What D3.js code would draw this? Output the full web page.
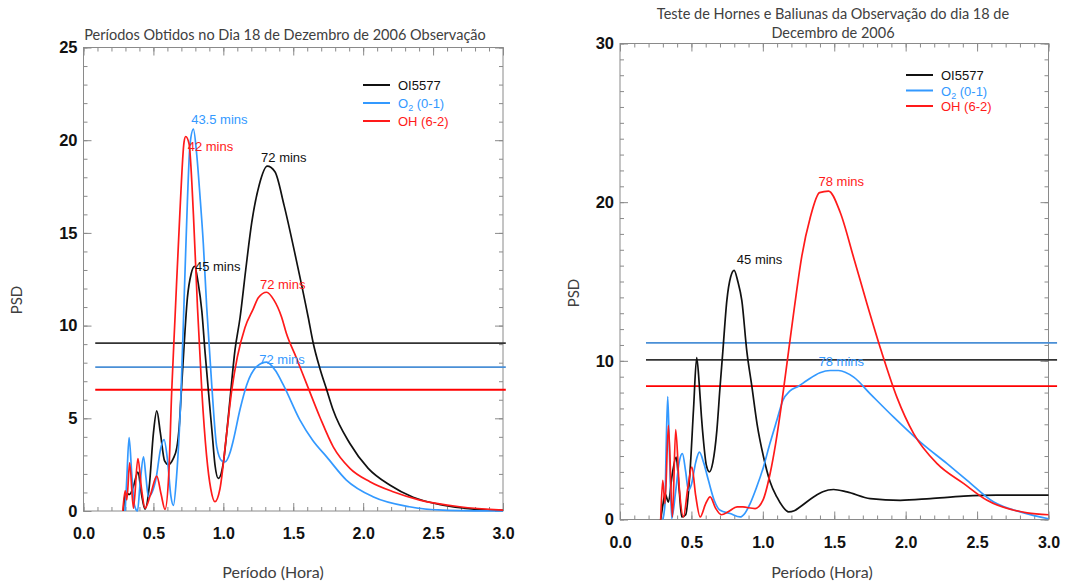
<!DOCTYPE html>
<html><head><meta charset="utf-8">
<script src="https://cdn.jsdelivr.net/npm/d3@7"></script>
<style>body{margin:0;background:#fff}</style>
</head><body>
<svg id="chart" width="1087" height="586"></svg>
<script>
// ---------------- DATA ----------------
const xTicks = [0.0, 0.5, 1.0, 1.5, 2.0, 2.5, 3.0];
const leftYTicks = [0, 5, 10, 15, 20, 25];
const rightYTicks = [0, 10, 20, 30];
const seriesNames = ["OI5577", "O2 (0-1)", "OH (6-2)"];

// Left panel: Períodos (PSD)
const leftOI5577 = [[0.285,0],[0.30,0.95],[0.33,0.9],[0.36,1.4],[0.389,2.1],[0.415,0.9],[0.44,0.1],[0.47,1.3],[0.50,4.2],[0.524,5.4],[0.55,4.2],[0.58,2.7],[0.607,2.5],[0.64,2.8],[0.667,3.4],[0.685,4.6],[0.70,6.5],[0.72,9.0],[0.743,11.5],[0.77,12.8],[0.795,13.2],[0.82,12.3],[0.846,10.8],[0.87,8.5],[0.893,6.5],[0.92,4.2],[0.94,2.5],[0.964,1.76],[1.00,2.6],[1.024,4.2],[1.05,6.2],[1.083,8.66],[1.12,10.45],[1.16,13.0],[1.203,15.55],[1.257,17.6],[1.314,18.6],[1.369,18.3],[1.434,16.5],[1.52,13.6],[1.607,10.45],[1.643,9.05],[1.69,7.7],[1.739,6.54],[1.786,5.43],[1.905,3.64],[2.036,2.3],[2.19,1.4],[2.357,0.74],[2.571,0.32],[2.81,0.09],[3.0,0.04]];
const leftO2 = [[0.298,0],[0.31,1.8],[0.326,3.96],[0.345,2.0],[0.365,0.3],[0.386,0.0],[0.405,1.5],[0.429,2.92],[0.447,1.8],[0.464,0.77],[0.49,1.0],[0.52,1.8],[0.55,3.3],[0.576,3.85],[0.60,2.8],[0.625,0.8],[0.643,0.3],[0.665,1.8],[0.698,6.5],[0.72,11.5],[0.743,16.7],[0.762,19.8],[0.786,20.6],[0.81,19.2],[0.833,17.0],[0.857,14.4],[0.881,11.0],[0.917,6.8],[0.953,3.46],[0.99,2.7],[1.012,2.65],[1.05,3.2],[1.071,3.8],[1.12,5.5],[1.167,6.8],[1.24,7.8],[1.31,8.03],[1.37,7.6],[1.429,6.8],[1.548,4.9],[1.64,3.8],[1.739,2.92],[1.88,1.67],[2.07,0.77],[2.33,0.23],[2.57,0.05],[3.0,0.0]];
const leftOH = [[0.281,0],[0.298,1.09],[0.31,0.6],[0.33,2.6],[0.357,0.15],[0.389,2.83],[0.415,1.2],[0.44,0.15],[0.48,0.9],[0.524,1.88],[0.555,0.9],[0.583,0.09],[0.61,2.0],[0.631,6.5],[0.655,10.5],[0.69,16.2],[0.719,19.9],[0.731,20.2],[0.755,19.8],[0.786,16.0],[0.815,11.0],[0.846,6.5],[0.88,3.0],[0.91,1.2],[0.94,0.5],[0.976,1.2],[1.024,4.2],[1.06,6.5],[1.10,8.3],[1.155,9.9],[1.214,10.9],[1.25,11.5],[1.31,11.8],[1.36,11.4],[1.417,10.45],[1.45,9.6],[1.52,8.3],[1.595,6.87],[1.69,5.07],[1.786,3.46],[1.905,2.3],[2.048,1.58],[2.214,1.04],[2.405,0.59],[2.69,0.23],[3.0,0.05]];
const leftThresholds = [9.05, 7.76, 6.54];
const leftThresholdSpan = [0.084, 3.02];
const leftPeakLabels = [
  {text:"43.5 mins", s:1, x:0.77, y:20.9},
  {text:"42 mins", s:2, x:0.745, y:19.4},
  {text:"72 mins", s:0, x:1.27, y:18.85},
  {text:"45 mins", s:0, x:0.797, y:12.95},
  {text:"72 mins", s:2, x:1.262, y:11.98},
  {text:"72 mins", s:1, x:1.257, y:7.95}
];

// Right panel: Teste de Hornes e Baliunas
const rightOI5577 = [[0.285,0],[0.30,0.9],[0.315,1.64],[0.339,1.1],[0.365,2.8],[0.393,3.94],[0.415,1.8],[0.432,0.16],[0.46,0.3],[0.49,3.0],[0.515,7.0],[0.537,10.2],[0.555,8.5],[0.57,6.5],[0.584,5.0],[0.605,3.4],[0.626,3.0],[0.65,3.6],[0.678,5.6],[0.70,8.3],[0.72,10.6],[0.748,13.8],[0.775,15.3],[0.799,15.7],[0.825,15.0],[0.853,13.8],[0.888,10.6],[0.923,8.4],[0.96,6.0],[1.005,3.94],[1.05,2.4],[1.098,1.42],[1.14,0.8],[1.18,0.48],[1.22,0.55],[1.26,0.79],[1.355,1.42],[1.42,1.75],[1.495,1.89],[1.589,1.74],[1.752,1.32],[1.963,1.21],[2.173,1.32],[2.406,1.47],[2.64,1.53],[3.0,1.53]];
const rightO2 = [[0.30,0],[0.315,1.0],[0.322,4.0],[0.334,7.75],[0.347,4.0],[0.362,0.06],[0.39,1.8],[0.414,3.6],[0.437,4.15],[0.46,3.0],[0.479,1.84],[0.50,2.2],[0.53,3.6],[0.556,4.25],[0.585,3.6],[0.619,2.47],[0.66,1.2],[0.701,0.58],[0.771,0.38],[0.841,0.16],[0.875,0.4],[0.911,1.0],[0.955,2.0],[1.004,3.3],[1.05,4.8],[1.098,6.25],[1.14,7.5],[1.19,8.1],[1.25,8.4],[1.308,8.76],[1.40,9.25],[1.472,9.39],[1.53,9.39],[1.636,8.97],[1.752,7.92],[1.916,6.45],[2.103,4.88],[2.29,3.52],[2.43,2.47],[2.617,1.1],[2.827,0.42],[3.0,0.05]];
const rightOH = [[0.285,0],[0.299,2.47],[0.315,1.0],[0.339,5.93],[0.367,0.16],[0.39,5.66],[0.415,2.0],[0.444,0.16],[0.475,2.0],[0.503,3.3],[0.53,1.5],[0.561,0.16],[0.60,1.0],[0.631,1.42],[0.67,0.7],[0.71,0.3],[0.76,0.5],[0.82,0.8],[0.86,0.79],[0.946,0.69],[1.0,1.2],[1.051,2.9],[1.09,4.8],[1.133,7.4],[1.18,10.6],[1.22,13.3],[1.273,16.6],[1.332,19.03],[1.397,20.6],[1.46,20.7],[1.542,19.35],[1.636,16.5],[1.729,13.6],[1.83,10.6],[1.939,7.7],[2.056,5.41],[2.22,3.52],[2.407,2.26],[2.57,1.21],[2.85,0.42],[3.0,0.3]];
const rightThresholds = [10.06, 11.13, 8.4];
const rightThresholdSpan = [0.182, 3.06];
const rightPeakLabels = [
  {text:"45 mins", s:0, x:0.818, y:16.1},
  {text:"78 mins", s:2, x:1.39, y:21.0},
  {text:"78 mins", s:1, x:1.39, y:9.7}
];

const seriesColors = ["#111111", "#3399ff", "#ff1a1a"];
const thresholdColors = ["#333333", "#4a8fd6", "#ff0000"];

// ---------------- DRAW ----------------
const svg = d3.select("#chart");
const tickFont = "'Liberation Sans', Arial, sans-serif";
const textFont = "Lato, 'Open Sans', sans-serif";

function panel(cfg) {
  const x = d3.scaleLinear().domain([0, 3]).range([cfg.left, cfg.right]);
  const y = d3.scaleLinear().domain([0, cfg.ymax]).range([cfg.bottom, cfg.top]);
  const g = svg.append("g");

  const minorX = d3.range(0, 3.0001, 0.1);
  const minorY = d3.range(0, cfg.ymax + 0.001, 1);

  function styleAxis(sel) {
    sel.select(".domain").remove();
    sel.selectAll("line").attr("stroke", "#8a8a8a").attr("stroke-width", 1);
  }
  g.append("g").attr("transform", `translate(0,${cfg.bottom})`)
    .call(d3.axisBottom(x).tickValues(minorX).tickSize(-4).tickFormat("")).call(styleAxis);
  const bx = g.append("g").attr("transform", `translate(0,${cfg.bottom})`)
    .call(d3.axisBottom(x).tickValues(xTicks).tickSize(-8).tickPadding(17).tickFormat(d3.format(".1f"))).call(styleAxis);
  bx.selectAll("text").attr("font-family", tickFont).attr("font-weight", "bold").attr("font-size", 16).attr("fill", "#111");
  g.append("g").attr("transform", `translate(0,${cfg.top})`)
    .call(d3.axisTop(x).tickValues(minorX).tickSize(-4).tickFormat("")).call(styleAxis);
  g.append("g").attr("transform", `translate(0,${cfg.top})`)
    .call(d3.axisTop(x).tickValues(xTicks).tickSize(-8).tickFormat("")).call(styleAxis);
  g.append("g").attr("transform", `translate(${cfg.left},0)`)
    .call(d3.axisLeft(y).tickValues(minorY).tickSize(-4).tickFormat("")).call(styleAxis);
  const ly = g.append("g").attr("transform", `translate(${cfg.left},0)`)
    .call(d3.axisLeft(y).tickValues(cfg.yTicks).tickSize(-8).tickPadding(6).tickFormat(d3.format("d"))).call(styleAxis);
  ly.selectAll("text").attr("font-family", tickFont).attr("font-weight", "bold").attr("font-size", 16.5).attr("fill", "#111");
  g.append("g").attr("transform", `translate(${cfg.right},0)`)
    .call(d3.axisRight(y).tickValues(minorY).tickSize(-4).tickFormat("")).call(styleAxis);
  g.append("g").attr("transform", `translate(${cfg.right},0)`)
    .call(d3.axisRight(y).tickValues(cfg.yTicks).tickSize(-8).tickFormat("")).call(styleAxis);

  g.append("rect").attr("x", cfg.left).attr("y", cfg.top)
    .attr("width", cfg.right - cfg.left).attr("height", cfg.bottom - cfg.top)
    .attr("fill", "none").attr("stroke", "#8a8a8a").attr("stroke-width", 1);

  cfg.thresholds.forEach((v, i) => {
    g.append("line").attr("x1", x(cfg.span[0])).attr("x2", x(cfg.span[1]))
      .attr("y1", y(v)).attr("y2", y(v))
      .attr("stroke", thresholdColors[i]).attr("stroke-width", 1.8);
  });

  const line = d3.line().x(d => x(d[0])).y(d => y(d[1])).curve(d3.curveMonotoneX);
  cfg.series.forEach((s, i) => {
    g.append("path").attr("d", line(s)).attr("fill", "none")
      .attr("stroke", seriesColors[i]).attr("stroke-width", 1.7).attr("stroke-linejoin", "round");
  });

  cfg.labels.forEach(l => {
    g.append("text").attr("x", x(l.x)).attr("y", y(l.y))
      .attr("font-family", tickFont).attr("font-size", 13)
      .attr("fill", seriesColors[l.s]).text(l.text);
  });

  seriesNames.forEach((n, i) => {
    const ly0 = cfg.legY + i * cfg.legStep;
    g.append("line").attr("x1", cfg.legX).attr("x2", cfg.legX + 27)
      .attr("y1", ly0).attr("y2", ly0).attr("stroke", seriesColors[i]).attr("stroke-width", 2);
    const t = g.append("text").attr("x", cfg.legX + 35).attr("y", ly0 + 5)
      .attr("font-family", tickFont).attr("font-size", 13).attr("fill", seriesColors[i]);
    if (i === 1) {
      t.append("tspan").text("O");
      t.append("tspan").attr("font-size", 9).attr("dy", 3).text("2");
      t.append("tspan").attr("dy", -3).text(" (0-1)");
    } else t.text(n);
  });

  cfg.title.forEach((tl, i) => {
    g.append("text").attr("x", cfg.titleX).attr("y", cfg.titleY + i * 19)
      .attr("text-anchor", "middle").attr("font-family", textFont).attr("font-size", 14.5)
      .attr("fill", "#404040").text(tl);
  });
  g.append("text").attr("x", cfg.xlabX).attr("y", 578).attr("text-anchor", "middle")
    .attr("font-family", textFont).attr("font-size", 16).attr("fill", "#404040").text("Período (Hora)");
  g.append("text").attr("transform", `translate(${cfg.ylabX},${cfg.ylabY}) rotate(-90)`)
    .attr("text-anchor", "middle").attr("font-family", textFont).attr("font-size", 15)
    .attr("fill", "#404040").text("PSD");
}

panel({
  left: 83.5, right: 503, top: 47.5, bottom: 511, ymax: 25, yTicks: leftYTicks,
  series: [leftOI5577, leftO2, leftOH], thresholds: leftThresholds, span: leftThresholdSpan,
  labels: leftPeakLabels, legX: 363, legY: 85, legStep: 18,
  title: ["Períodos Obtidos no Dia 18 de Dezembro de 2006 Observação"], titleX: 285, titleY: 40,
  xlabX: 273, ylabX: 22, ylabY: 300
});
panel({
  left: 620, right: 1048.5, top: 43.5, bottom: 519.5, ymax: 30, yTicks: rightYTicks,
  series: [rightOI5577, rightO2, rightOH], thresholds: rightThresholds, span: rightThresholdSpan,
  labels: rightPeakLabels, legX: 906, legY: 75, legStep: 15.5,
  title: ["Teste de Hornes e Baliunas da Observação do dia 18 de", "Decembro de 2006"], titleX: 833, titleY: 19,
  xlabX: 822, ylabX: 579, ylabY: 293
});
</script>
</body></html>
